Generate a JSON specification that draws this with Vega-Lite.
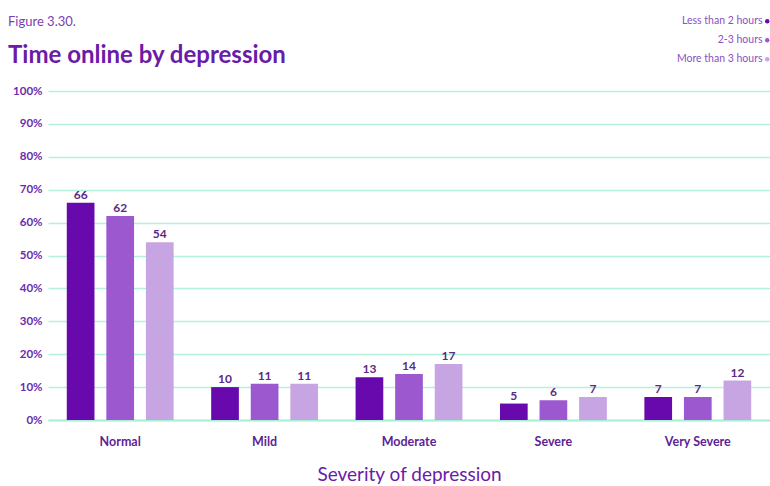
{
  "$schema": "https://vega.github.io/schema/vega-lite/v6.json",
  "autosize": "none",
  "width": 722,
  "height": 329,
  "padding": {"left": 48, "top": 91, "right": 0, "bottom": 66},
  "background": "white",
  "title": {
    "text": "Figure 3.30.",
    "subtitle": "Time online by depression",
    "anchor": "start",
    "frame": "group",
    "dx": -40,
    "offset": -52,
    "font": "Lato",
    "fontSize": 13,
    "fontWeight": "normal",
    "color": "#7b3fb0",
    "subtitleFont": "Lato",
    "subtitleFontSize": 24,
    "subtitleFontWeight": "bold",
    "subtitleColor": "#6a1ba8",
    "subtitlePadding": 15
  },
  "data": {
    "values": [
      {"severity": "Normal", "time": "Less than 2 hours", "pct": 66},
      {"severity": "Normal", "time": "2-3 hours", "pct": 62},
      {"severity": "Normal", "time": "More than 3 hours", "pct": 54},
      {"severity": "Mild", "time": "Less than 2 hours", "pct": 10},
      {"severity": "Mild", "time": "2-3 hours", "pct": 11},
      {"severity": "Mild", "time": "More than 3 hours", "pct": 11},
      {"severity": "Moderate", "time": "Less than 2 hours", "pct": 13},
      {"severity": "Moderate", "time": "2-3 hours", "pct": 14},
      {"severity": "Moderate", "time": "More than 3 hours", "pct": 17},
      {"severity": "Severe", "time": "Less than 2 hours", "pct": 5},
      {"severity": "Severe", "time": "2-3 hours", "pct": 6},
      {"severity": "Severe", "time": "More than 3 hours", "pct": 7},
      {"severity": "Very Severe", "time": "Less than 2 hours", "pct": 7},
      {"severity": "Very Severe", "time": "2-3 hours", "pct": 7},
      {"severity": "Very Severe", "time": "More than 3 hours", "pct": 12}
    ]
  },
  "encoding": {
    "x": {
      "field": "severity",
      "type": "nominal",
      "sort": ["Normal", "Mild", "Moderate", "Severe", "Very Severe"],
      "scale": {"paddingInner": 0.26, "paddingOuter": 0.13},
      "axis": {
        "title": "Severity of depression",
        "titleFont": "Lato",
        "titleFontSize": 19,
        "titleFontWeight": "normal",
        "titleColor": "#6a1ba8",
        "titlePadding": 18,
        "labelAngle": 0,
        "labelFont": "Lato",
        "labelFontSize": 12.5,
        "labelFontWeight": "bold",
        "labelColor": "#5e1f96",
        "labelPadding": 15,
        "ticks": false,
        "domainColor": "#a9efd6",
        "domainWidth": 2
      }
    },
    "xOffset": {
      "field": "time",
      "type": "nominal",
      "sort": ["Less than 2 hours", "2-3 hours", "More than 3 hours"],
      "scale": {"paddingInner": 0.3, "paddingOuter": 0}
    },
    "y": {
      "field": "pct",
      "type": "quantitative",
      "scale": {"domain": [0, 100]},
      "axis": {
        "title": null,
        "tickCount": 10,
        "labelExpr": "datum.value + '%'",
        "labelFont": "Lato",
        "labelFontSize": 11.5,
        "labelFontWeight": "bold",
        "labelColor": "#6a2bb0",
        "labelPadding": 6,
        "ticks": false,
        "domain": false,
        "gridColor": "#b3f1dc",
        "gridWidth": 1.5
      }
    }
  },
  "layer": [
    {
      "mark": {"type": "bar"},
      "encoding": {
        "color": {
          "field": "time",
          "type": "nominal",
          "sort": ["Less than 2 hours", "2-3 hours", "More than 3 hours"],
          "scale": {"range": ["#6809ad", "#9b58cf", "#c7a5e2"]},
          "legend": {
            "title": null,
            "orient": "none",
            "legendX": 714,
            "legendY": -75,
            "symbolType": "circle",
            "symbolSize": 20,
            "labelAlign": "right",
            "labelOffset": -10,
            "labelFont": "Lato",
            "labelFontSize": 10.5,
            "labelColor": "#8a4fc4",
            "rowPadding": 8
          }
        }
      }
    },
    {
      "mark": {"type": "text", "dy": -8, "font": "Lato", "fontSize": 12, "fontWeight": "bold", "color": "#5a2a86"},
      "encoding": {"text": {"field": "pct", "type": "quantitative"}}
    }
  ],
  "config": {"view": {"stroke": null}}
}
